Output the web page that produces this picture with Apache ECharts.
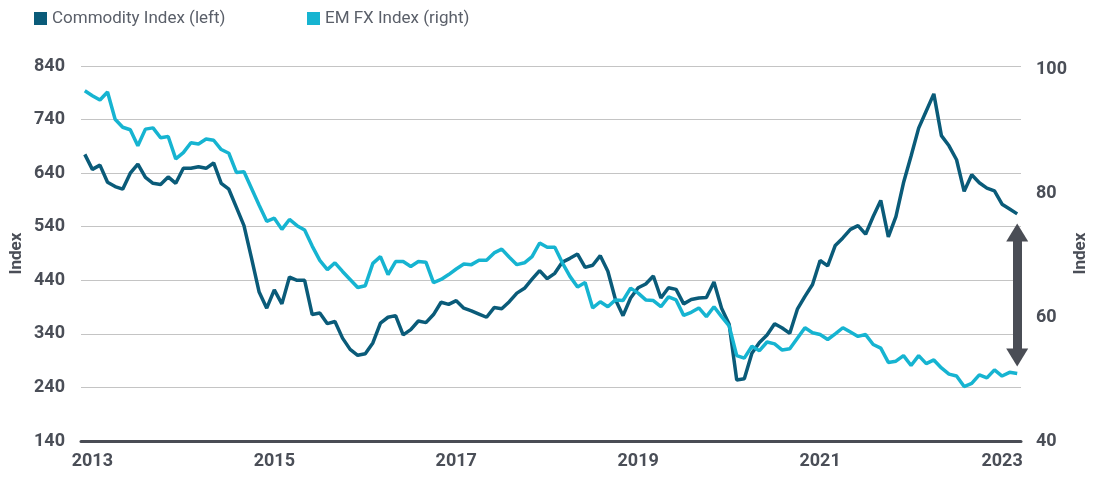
<!DOCTYPE html>
<html><head><meta charset="utf-8">
<script src="https://cdn.jsdelivr.net/npm/echarts@6/dist/echarts.min.js"></script>
<style>html,body{margin:0;padding:0;background:#fff}#c{width:1099px;height:478px}</style>
</head><body><div id="c"></div>
<script>
const months = [
 '2012-12',
 '2013-01','2013-02','2013-03','2013-04','2013-05','2013-06','2013-07','2013-08','2013-09','2013-10','2013-11','2013-12',
 '2014-01','2014-02','2014-03','2014-04','2014-05','2014-06','2014-07','2014-08','2014-09','2014-10','2014-11','2014-12',
 '2015-01','2015-02','2015-03','2015-04','2015-05','2015-06','2015-07','2015-08','2015-09','2015-10','2015-11','2015-12',
 '2016-01','2016-02','2016-03','2016-04','2016-05','2016-06','2016-07','2016-08','2016-09','2016-10','2016-11','2016-12',
 '2017-01','2017-02','2017-03','2017-04','2017-05','2017-06','2017-07','2017-08','2017-09','2017-10','2017-11','2017-12',
 '2018-01','2018-02','2018-03','2018-04','2018-05','2018-06','2018-07','2018-08','2018-09','2018-10','2018-11','2018-12',
 '2019-01','2019-02','2019-03','2019-04','2019-05','2019-06','2019-07','2019-08','2019-09','2019-10','2019-11','2019-12',
 '2020-01','2020-02','2020-03','2020-04','2020-05','2020-06','2020-07','2020-08','2020-09','2020-10','2020-11','2020-12',
 '2021-01','2021-02','2021-03','2021-04','2021-05','2021-06','2021-07','2021-08','2021-09','2021-10','2021-11','2021-12',
 '2022-01','2022-02','2022-03','2022-04','2022-05','2022-06','2022-07','2022-08','2022-09','2022-10','2022-11','2022-12',
 '2023-01','2023-02','2023-03'
];
const commodityIndex = [
 675,647,655,623,615,610,640,657,632,621,619,633,
 621,649,649,652,649,659,621,610,576,542,481,418,
 388,422,396,446,440,440,376,379,359,363,332,311,
 300,303,323,360,371,374,338,348,364,361,376,399,
 395,402,388,383,377,371,389,387,400,416,425,442,
 458,443,453,474,481,489,464,468,486,457,404,374,
 407,426,433,448,407,426,423,396,404,407,408,437,
 388,358,254,256,304,324,338,359,351,341,386,410,
 432,477,467,505,519,535,542,526,559,589,521,559,
 622,672,724,756,788,710,691,665,606,637,622,612,
 607,582,573,564
];
const emFxIndex = [
 96.6,95.8,95.1,96.4,92.0,90.7,90.3,87.7,90.4,90.6,89.0,89.2,
 85.6,86.6,88.2,88.0,88.8,88.6,87.1,86.5,83.4,83.5,80.8,78.1,
 75.5,76.0,74.2,75.8,74.8,74.1,71.5,69.2,67.7,68.8,67.4,66.1,
 64.8,65.1,68.7,69.8,66.9,69.0,69.0,68.2,69.0,68.9,65.6,66.1,
 66.9,67.8,68.6,68.5,69.2,69.2,70.4,71.0,69.7,68.5,68.8,69.8,
 72.0,71.3,71.3,68.8,66.6,64.9,65.6,61.5,62.5,61.7,62.8,62.7,
 64.7,63.9,62.8,62.7,61.7,63.3,62.8,60.3,60.8,61.5,60.1,61.7,
 60.1,58.6,53.8,53.4,55.3,54.6,56.0,55.7,54.7,54.9,56.6,58.3,
 57.5,57.2,56.4,57.3,58.3,57.6,56.9,57.2,55.6,55.0,52.7,52.9,
 53.8,52.2,53.8,52.5,53.1,51.8,50.8,50.5,48.8,49.3,50.7,50.2,
 51.5,50.5,51.1,50.9
];
const xTickYears = ['2013','2015','2017','2019','2021','2023'];
const leftTicks = [140,240,340,440,540,640,740,840];
const rightTicks = [40,60,80,100];
const seriesNames = ['Commodity Index (left)','EM FX Index (right)'];
const arrowSpan = [529, 296]; // gap annotation, in left-axis units

const DARK = '#0a5b79', CYAN = '#16b4d1', TXT = '#4a4e57', GRID = '#c4c4c4';
const FONT = 'Roboto';

const chart = echarts.init(document.getElementById('c'), null, {renderer:'canvas'});
chart.setOption({
  animation:false,
  backgroundColor:'#fff',
  textStyle:{fontFamily:FONT},
  legend:[
    {left:34, top:10, padding:0, itemWidth:13, itemHeight:13, itemGap:5,
     data:[{name:seriesNames[0], icon:'rect'}], selectedMode:false,
     textStyle:{color:'#5a5f69', fontSize:17, fontFamily:FONT}},
    {left:307, top:10, padding:0, itemWidth:13, itemHeight:13, itemGap:5,
     data:[{name:seriesNames[1], icon:'rect'}], selectedMode:false,
     textStyle:{color:'#5a5f69', fontSize:17, fontFamily:FONT}}
  ],
  grid:{left:81, right:78, top:66, bottom:37, containLabel:false, outerBoundsMode:'none'},
  xAxis:{
    type:'category', data:months, boundaryGap:true,
    axisLine:{show:true, lineStyle:{color:'#4a4d55', width:3}},
    axisTick:{show:false},
    splitLine:{show:false},
    axisLabel:{
      interval:(i,v)=> v.endsWith('-01') && xTickYears.includes(v.slice(0,4)),
      formatter:v=>v.slice(0,4),
      color:TXT, fontSize:18, fontWeight:'bold', fontFamily:FONT, margin:11
    }
  },
  yAxis:[
    {type:'value', position:'left', min:leftTicks[0], max:leftTicks[leftTicks.length-1], interval:100,
     name:'Index', nameLocation:'middle', nameGap:56, nameRotate:90, nameMoveOverlap:false,
     nameTextStyle:{color:TXT, fontSize:17, fontWeight:'bold', fontFamily:FONT},
     axisLine:{show:false}, axisTick:{show:false},
     axisLabel:{color:TXT, fontSize:18, fontWeight:'bold', fontFamily:FONT, margin:16},
     splitLine:{show:true, lineStyle:{color:GRID, width:1}}},
    {type:'value', position:'right', min:rightTicks[0], max:100.6, interval:20,
     name:'Index', nameLocation:'middle', nameGap:51, nameRotate:90, nameMoveOverlap:false,
     nameTextStyle:{color:TXT, fontSize:17, fontWeight:'bold', fontFamily:FONT},
     axisLine:{show:false}, axisTick:{show:false},
     axisLabel:{color:TXT, fontSize:18, fontWeight:'bold', fontFamily:FONT, margin:15,
       formatter:v=> rightTicks.includes(v) ? String(v) : ''},
     splitLine:{show:false}}
  ],
  series:[
    {name:seriesNames[0], type:'line', yAxisIndex:0, data:commodityIndex, symbol:'none',
     lineStyle:{color:DARK, width:3.5}, itemStyle:{color:DARK}, z:2,
     markLine:{
       silent:true, animation:false, symbol:['triangle','triangle'], symbolSize:[22,18],
       label:{show:false},
       lineStyle:{color:'#4a4d55', width:9, type:'solid'},
       data:[[{coord:[months[months.length-1], arrowSpan[0]]},{coord:[months[months.length-1], arrowSpan[1]]}]]
     }},
    {name:seriesNames[1], type:'line', yAxisIndex:1, data:emFxIndex, symbol:'none',
     lineStyle:{color:CYAN, width:3.5}, itemStyle:{color:CYAN}, z:3}
  ]
});
</script></body></html>
